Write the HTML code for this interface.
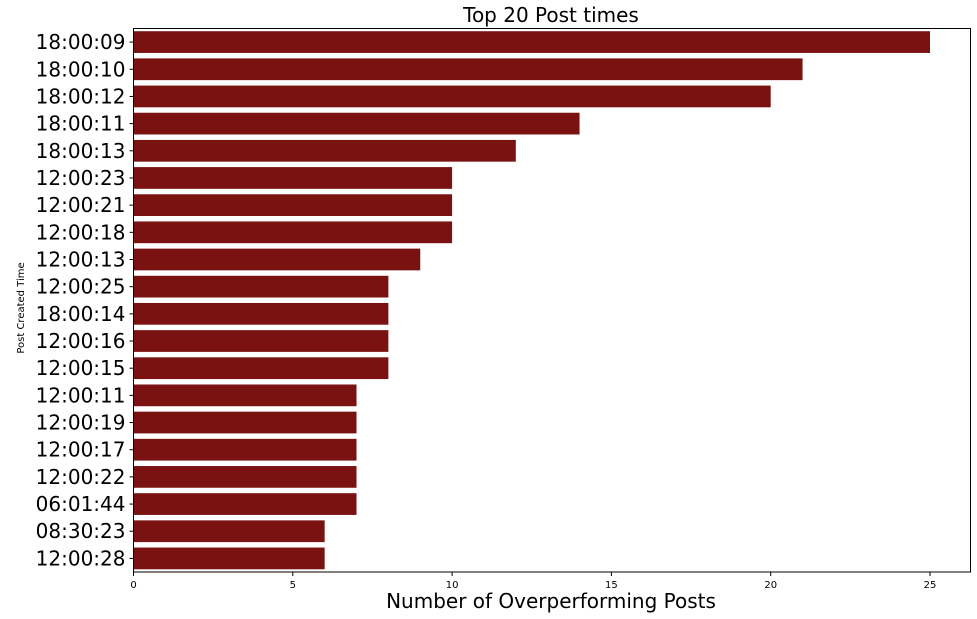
<!DOCTYPE html>
<html><head><meta charset="utf-8"><style>
body{margin:0;background:#fff;}
svg{display:block;font-family:"DejaVu Sans","Liberation Sans",sans-serif;}
</style></head><body>
<svg id="chart" width="977" height="619">
<text x="551" y="22" font-size="20" text-anchor="middle">Top 20 Post times</text>
<g id="bars"></g><g id="yticks"></g><g id="xticks"></g>
<rect x="133.5" y="28.5" width="837" height="543.5" fill="none" stroke="#000" stroke-width="1"/>
<text x="551" y="608" font-size="20" text-anchor="middle">Number of Overperforming Posts</text>
<text transform="translate(24,308) rotate(-90)" font-size="10" text-anchor="middle">Post Created Time</text>
</svg>
<script>
const categories=["18:00:09","18:00:10","18:00:12","18:00:11","18:00:13","12:00:23","12:00:21","12:00:18","12:00:13","12:00:25","18:00:14","12:00:16","12:00:15","12:00:11","12:00:19","12:00:17","12:00:22","06:01:44","08:30:23","12:00:28"];
const values=[25,21,20,14,12,10,10,10,9,8,8,8,8,7,7,7,7,7,6,6];
const xTicks=[0,5,10,15,20,25];
const NS="http://www.w3.org/2000/svg";
const x0=133.5,xs=31.86,plotTop=28.5,plotBottom=572;
const step=(plotBottom-plotTop)/categories.length,bh=step*0.8;
const X=v=>x0+v*xs, Y=i=>plotTop+i*step+step/2;
const bars=document.getElementById('bars'),yt=document.getElementById('yticks'),xt=document.getElementById('xticks');
function mk(t,a,p){const e=document.createElementNS(NS,t);for(const k in a)e.setAttribute(k,a[k]);p.appendChild(e);return e;}
categories.forEach((c,i)=>{
 const r=mk('rect',{x:X(0),y:Y(i)-bh/2,width:X(values[i])-X(0),height:bh,fill:'#7a1212'},bars);
 
 
 mk('line',{x1:x0-4,x2:x0,y1:Y(i),y2:Y(i),stroke:'#000'},yt);
 const t=mk('text',{x:x0-8,y:Y(i)+7,'font-size':20,'text-anchor':'end'},yt);t.textContent=c;
 
 
});
xTicks.forEach(v=>{
 mk('line',{x1:X(v),x2:X(v),y1:plotBottom,y2:plotBottom+4,stroke:'#000'},xt);
 const t=mk('text',{x:X(v),y:plotBottom+16,'font-size':10,'text-anchor':'middle'},xt);t.textContent=v;
 
 
});
</script>
</body></html>
